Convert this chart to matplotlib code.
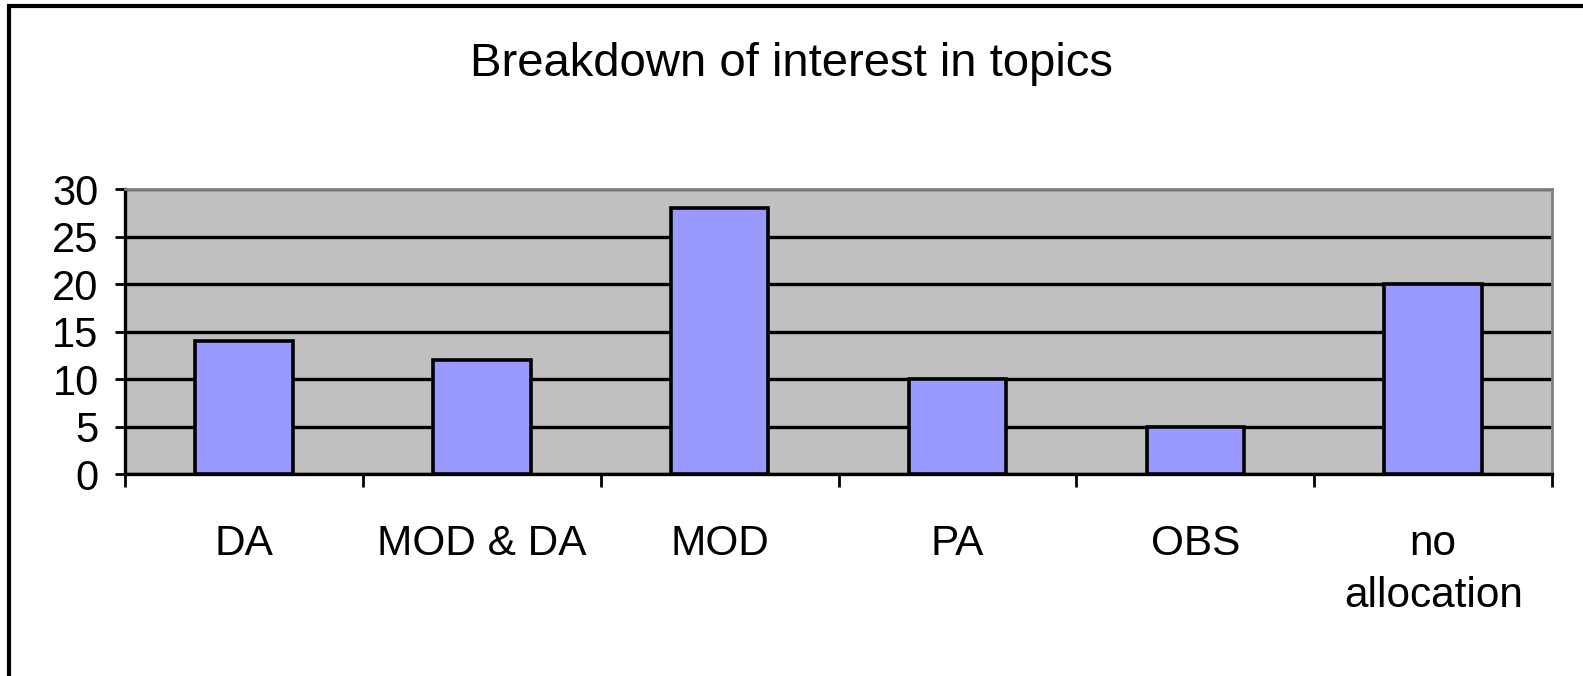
import matplotlib.pyplot as plt
from matplotlib.patches import Rectangle

# Data
categories = ["DA", "MOD & DA", "MOD", "PA", "OBS", "no\nallocation"]
counts = [14, 12, 28, 10, 5, 20]
y_ticks = [0, 5, 10, 15, 20, 25, 30]

plt.rcParams['font.family'] = ['Liberation Sans', 'DejaVu Sans']

fig = plt.figure(figsize=(15.83, 6.76), dpi=100)
ax = fig.add_axes([0.079, 0.2988, 0.9015, 0.4216])

ax.set_facecolor('#C0C0C0')
ax.set_axisbelow(True)
ax.yaxis.grid(True, color='black', linewidth=2.4)

x = list(range(len(categories)))
ax.bar(x, counts, width=0.41, color='#9999FF', edgecolor='black', linewidth=2.6, zorder=3)

ax.set_xlim(-0.5, len(categories) - 0.5)
ax.set_ylim(0, 30)
ax.set_yticks(y_ticks)
ax.set_yticklabels([str(v) for v in y_ticks], fontsize=30)
ax.tick_params(axis='y', length=7, width=2, pad=12)

# category labels centred, tick marks at category boundaries
ax.set_xticks(x)
ax.set_xticklabels(categories, fontsize=30.5, linespacing=1.38)
ax.tick_params(axis='x', which='major', length=0, pad=36)
ax.set_xticks([i - 0.5 for i in range(len(categories) + 1)], minor=True)
ax.tick_params(axis='x', which='minor', length=9, width=2)

for side in ['left', 'bottom']:
    ax.spines[side].set_linewidth(2.4)
    ax.spines[side].set_color('black')
for side in ['top', 'right']:
    ax.spines[side].set_linewidth(2)
    ax.spines[side].set_color('#808080')

fig.text(0.5, 0.905, "Breakdown of interest in topics", ha='center', va='center', fontsize=34)

# outer chart border (only top and left edges visible in the crop)
fig.patches.append(Rectangle((9 / 1583, -0.05), 1.2, 1 - 6 / 676 + 0.05,
                             transform=fig.transFigure, fill=False,
                             edgecolor='black', linewidth=3))

fig.savefig('out.png', dpi=100)
